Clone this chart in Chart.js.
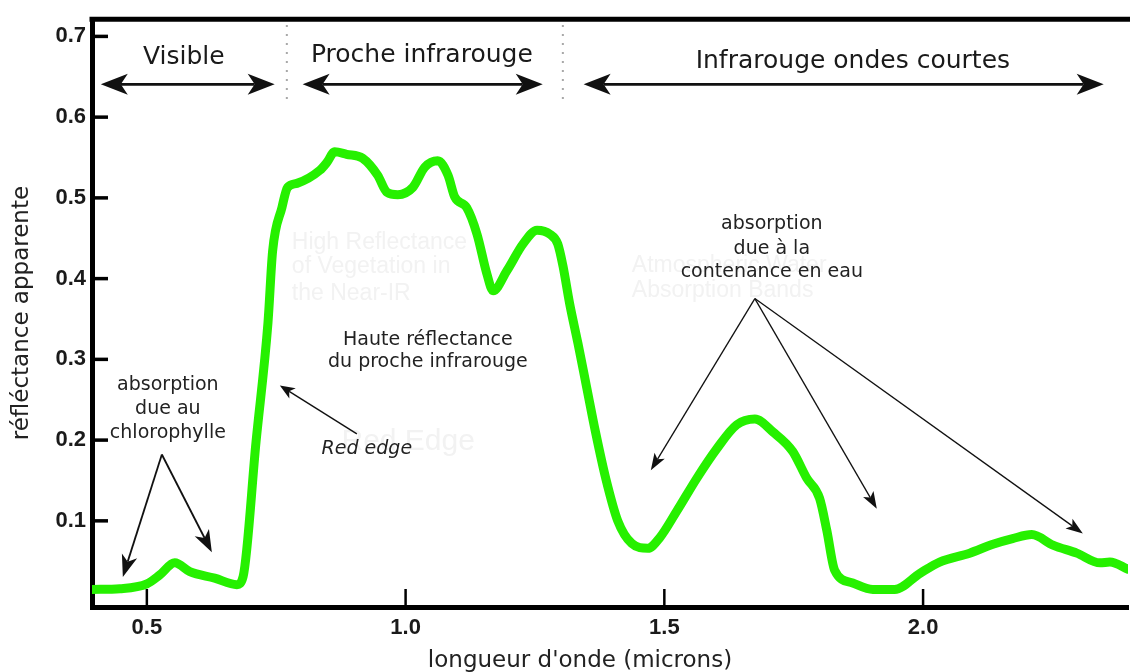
<!DOCTYPE html>
<html>
<head>
<meta charset="utf-8">
<script src="https://cdn.jsdelivr.net/npm/chart.js@4.4.1/dist/chart.umd.min.js"></script>
<style>
html, body { margin: 0; padding: 0; background: #ffffff; }
canvas { display: block; }
</style>
</head>
<body>
<canvas id="chart" width="1130" height="672"></canvas>
<script>
// ---------------- data ----------------
const wavelength = [
  0.394, 0.448, 0.500, 0.525, 0.554, 0.583, 0.631, 0.674, 0.686, 0.711,
  0.734, 0.743, 0.761, 0.772, 0.790, 0.834, 0.848, 0.863, 0.886, 0.917,
  0.946, 0.964, 0.985, 1.014, 1.037, 1.062, 1.082, 1.095, 1.118, 1.138,
  1.157, 1.169, 1.196, 1.227, 1.254, 1.279, 1.294, 1.304, 1.317, 1.333,
  1.350, 1.367, 1.387, 1.410, 1.437, 1.468, 1.491, 1.524, 1.563, 1.601,
  1.640, 1.675, 1.710, 1.748, 1.775, 1.800, 1.814, 1.829, 1.864, 1.903,
  1.945, 1.994, 2.032, 2.090, 2.135, 2.173, 2.210, 2.251, 2.297, 2.342,
  2.361, 2.396
];
const reflectance = [
  0.015, 0.016, 0.022, 0.033, 0.048, 0.037, 0.029, 0.021, 0.031, 0.198,
  0.345, 0.434, 0.488, 0.513, 0.518, 0.534, 0.544, 0.557, 0.554, 0.549,
  0.528, 0.507, 0.504, 0.513, 0.538, 0.546, 0.528, 0.501, 0.488, 0.455,
  0.406, 0.385, 0.410, 0.443, 0.460, 0.455, 0.443, 0.416, 0.369, 0.320,
  0.265, 0.210, 0.152, 0.100, 0.072, 0.066, 0.079, 0.112, 0.153, 0.189,
  0.219, 0.226, 0.210, 0.186, 0.153, 0.128, 0.088, 0.039, 0.023, 0.015,
  0.015, 0.035, 0.049, 0.060, 0.071, 0.078, 0.083, 0.070, 0.060, 0.048,
  0.049, 0.040
];
const xTickValues = [0.5, 1.0, 1.5, 2.0];
const yTickValues = [0.1, 0.2, 0.3, 0.4, 0.5, 0.6, 0.7];
const xTitle = "longueur d'onde (microns)";
const yTitle = "réfléctance apparente";

// spectral bands (wavelength ranges of the double arrows) and separators
const bandNames = ["Visible", "Proche infrarouge", "Infrarouge ondes courtes"];
const bandStart = [0.411, 0.801, 1.344];
const bandEnd   = [0.747, 1.265, 2.349];
const bandSeparators = [0.7705, 1.3039];

// ---------------- annotation layout (data coordinates) ----------------
const annot = {
  bandArrowY: 0.6406,
  bandLabelX: [0.5715, 1.0314, 1.8643],
  bandLabelY: [0.6663, 0.6687, 0.6614],
  sepTop: 0.714, sepBottom: 0.614,
  notes: [
    { lines: ["absorption", "due au", "chlorophylle"], x: 0.5406, y: [0.2677, 0.2384, 0.2090], italic: false },
    { lines: ["Haute réflectance", "du proche infrarouge"], x: 1.043, y: [0.324, 0.297], italic: false },
    { lines: ["Red edge"], x: 0.9251, y: [0.1883], italic: true },
    { lines: ["absorption", "due à la", "contenance en eau"], x: 1.7077, y: [0.467, 0.4364, 0.4083], italic: false }
  ],
  pointers: [
    { from: [0.529, 0.1822], to: [0.4536, 0.0306], lw: 1.8, len: 22, half: 8, notch: 6 },
    { from: [0.529, 0.1822], to: [0.6256, 0.0611], lw: 1.8, len: 22, half: 8, notch: 6 },
    { from: [0.9058, 0.2078], to: [0.757, 0.2677], lw: 1.4, len: 15, half: 6, notch: 4 },
    { from: [1.6749, 0.3753], to: [1.4739, 0.1626], lw: 1.3, len: 17, half: 6, notch: 4 },
    { from: [1.6749, 0.3753], to: [1.9106, 0.1149], lw: 1.3, len: 17, half: 6, notch: 4 },
    { from: [1.6749, 0.3753], to: [2.3087, 0.0844], lw: 1.3, len: 17, half: 6, notch: 4 }
  ],
  ghosts: [
    { lines: ["High Reflectance", "of Vegetation in", "the Near-IR"], x: 0.7802, y: [0.445, 0.4144, 0.3814], size: 23, align: 'left' },
    { lines: ["Atmospheric Water", "Absorption Bands"], x: 1.4372, y: [0.4156, 0.3851], size: 23, align: 'left' },
    { lines: ["Red Edge"], x: 1.005, y: [0.198], size: 30, align: 'center' }
  ]
};

const TEXT_FONT = '"DejaVu Sans", Verdana, sans-serif';
const TICK_FONT = '"Liberation Sans", Arial, sans-serif';

function drawHead(ctx, x1, y1, x2, y2, len, half, notch) {
  const a = Math.atan2(y2 - y1, x2 - x1);
  ctx.save();
  ctx.translate(x2, y2);
  ctx.rotate(a);
  ctx.beginPath();
  ctx.moveTo(0, 0);
  ctx.lineTo(-len, -half);
  ctx.lineTo(-len + notch, 0);
  ctx.lineTo(-len, half);
  ctx.closePath();
  ctx.fill();
  ctx.restore();
}

const annotationPlugin = {
  id: 'annotations',
  beforeDraw(chart) {
    const ctx = chart.ctx;
    ctx.save();
    ctx.fillStyle = '#ffffff';
    ctx.fillRect(0, 0, chart.width, chart.height);
    // faint ghost texts
    const xs = chart.scales.x, ys = chart.scales.y;
    ctx.fillStyle = '#f2f2f2';
    ctx.textBaseline = 'middle';
    annot.ghosts.forEach(g => {
      ctx.font = g.size + 'px ' + TICK_FONT;
      ctx.textAlign = g.align;
      g.lines.forEach((t, i) => ctx.fillText(t, xs.getPixelForValue(g.x), ys.getPixelForValue(g.y[i])));
    });
    ctx.restore();
  },
  afterDatasetsDraw(chart) {
    const ctx = chart.ctx;
    const xs = chart.scales.x, ys = chart.scales.y;
    const area = chart.chartArea;
    const X = v => xs.getPixelForValue(v);
    const Y = v => ys.getPixelForValue(v);
    ctx.save();

    // top frame line
    ctx.strokeStyle = '#000';
    ctx.lineWidth = 5;
    ctx.beginPath();
    ctx.moveTo(area.left - 2.5, area.top);
    ctx.lineTo(chart.width, area.top);
    ctx.stroke();

    // inward ticks
    ctx.lineWidth = 3.5;
    yTickValues.forEach(v => {
      ctx.beginPath();
      ctx.moveTo(area.left, Y(v));
      ctx.lineTo(area.left + 16, Y(v));
      ctx.stroke();
    });
    ctx.lineWidth = 2.5;
    xTickValues.forEach(v => {
      ctx.beginPath();
      ctx.moveTo(X(v), area.bottom);
      ctx.lineTo(X(v), area.bottom - 18);
      ctx.stroke();
    });

    // dotted band separators
    ctx.strokeStyle = '#a8a8a8';
    ctx.lineWidth = 2;
    ctx.setLineDash([2, 7]);
    bandSeparators.forEach(v => {
      ctx.beginPath();
      ctx.moveTo(X(v), Y(annot.sepTop));
      ctx.lineTo(X(v), Y(annot.sepBottom));
      ctx.stroke();
    });
    ctx.setLineDash([]);

    // band double arrows and labels
    ctx.strokeStyle = '#111';
    ctx.fillStyle = '#111';
    const ay = Y(annot.bandArrowY);
    bandNames.forEach((name, i) => {
      const x1 = X(bandStart[i]), x2 = X(bandEnd[i]);
      ctx.lineWidth = 2.8;
      ctx.beginPath();
      ctx.moveTo(x1 + 20, ay);
      ctx.lineTo(x2 - 20, ay);
      ctx.stroke();
      drawHead(ctx, x2, ay, x1, ay, 27, 10.5, 7);
      drawHead(ctx, x1, ay, x2, ay, 27, 10.5, 7);
      ctx.font = '25px ' + TEXT_FONT;
      ctx.textAlign = 'center';
      ctx.textBaseline = 'alphabetic';
      ctx.fillStyle = '#1a1a1a';
      ctx.fillText(name, X(annot.bandLabelX[i]), Y(annot.bandLabelY[i]));
      ctx.fillStyle = '#111';
    });

    // pointer arrows
    annot.pointers.forEach(p => {
      const x1 = X(p.from[0]), y1 = Y(p.from[1]);
      const x2 = X(p.to[0]), y2 = Y(p.to[1]);
      const a = Math.atan2(y2 - y1, x2 - x1);
      const ex = x2 - Math.cos(a) * (p.len - p.notch);
      const ey = y2 - Math.sin(a) * (p.len - p.notch);
      ctx.lineWidth = p.lw;
      ctx.beginPath();
      ctx.moveTo(x1, y1);
      ctx.lineTo(ex, ey);
      ctx.stroke();
      drawHead(ctx, x1, y1, x2, y2, p.len, p.half, p.notch);
    });

    // notes
    ctx.fillStyle = '#222';
    ctx.textAlign = 'center';
    ctx.textBaseline = 'middle';
    annot.notes.forEach(n => {
      ctx.font = (n.italic ? 'italic ' : '') + '19px ' + TEXT_FONT;
      n.lines.forEach((t, i) => ctx.fillText(t, X(n.x), Y(n.y[i])));
    });

    // x axis title
    ctx.font = '23px ' + TEXT_FONT;
    ctx.fillStyle = '#222';
    ctx.textAlign = 'center';
    ctx.textBaseline = 'alphabetic';
    ctx.fillText(xTitle, 580, 667);

    ctx.restore();
  }
};

new Chart(document.getElementById('chart'), {
  type: 'line',
  data: {
    datasets: [{
      data: wavelength.map((w, i) => ({ x: w, y: reflectance[i] })),
      borderColor: '#26f000',
      borderWidth: 9,
      pointRadius: 0,
      cubicInterpolationMode: 'monotone',
      borderCapStyle: 'round',
      borderJoinStyle: 'round',
      fill: false
    }]
  },
  options: {
    responsive: false,
    animation: false,
    events: [],
    layout: { padding: { top: 12, right: 2, left: 0, bottom: 0 } },
    plugins: { legend: { display: false }, tooltip: { enabled: false } },
    scales: {
      x: {
        type: 'linear',
        min: 0.394,
        max: 2.396,
        afterFit(scale) { scale.height = 65; },
        afterBuildTicks(scale) { scale.ticks = xTickValues.map(v => ({ value: v })); },
        grid: { display: false, drawTicks: false },
        border: { display: true, color: '#000', width: 5 },
        ticks: {
          padding: 8,
          color: '#1a1a1a',
          font: { family: TICK_FONT, size: 22, weight: 'bold' },
          callback: v => Number(v).toFixed(1),
          maxRotation: 0,
          autoSkip: false
        },
        title: { display: false }
      },
      y: {
        type: 'linear',
        min: -0.0067,
        max: 0.7213,
        afterFit(scale) { scale.width = 92; },
        afterBuildTicks(scale) { scale.ticks = yTickValues.map(v => ({ value: v })); },
        grid: { display: false, drawTicks: false },
        border: { display: true, color: '#000', width: 5 },
        ticks: {
          padding: 6,
          color: '#1a1a1a',
          font: { family: TICK_FONT, size: 22, weight: 'bold' },
          callback: v => Number(v).toFixed(1),
          autoSkip: false
        },
        title: {
          display: true,
          text: yTitle,
          color: '#222',
          font: { family: TEXT_FONT, size: 23 },
          padding: { top: 8, bottom: 0 }
        }
      }
    }
  },
  plugins: [annotationPlugin]
});
</script>
</body>
</html>
